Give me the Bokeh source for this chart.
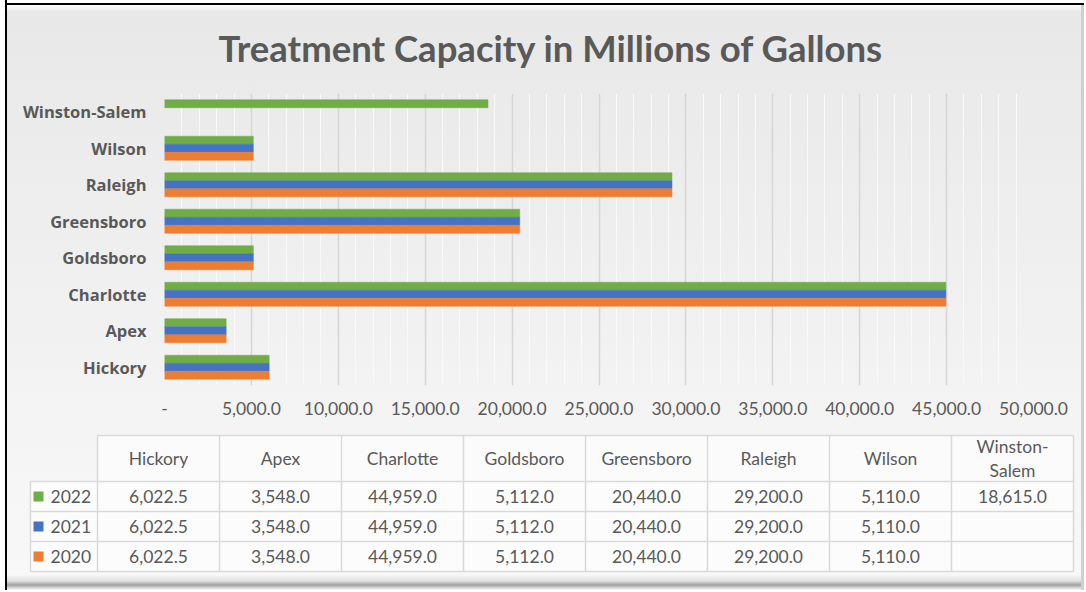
import numpy as np
from bokeh.plotting import figure
from bokeh.models import (ColumnDataSource, FactorRange, Range1d,
                          SingleIntervalTicker, CustomJSTickFormatter)
from bokeh.transform import dodge
from bokeh.core.properties import value
from bokeh.embed import file_html
from bokeh.resources import INLINE

# ---------------- data ----------------
categories = ["Hickory", "Apex", "Charlotte", "Goldsboro", "Greensboro",
              "Raleigh", "Wilson", "Winston-Salem"]
header_labels = ["Hickory", "Apex", "Charlotte", "Goldsboro", "Greensboro",
                 "Raleigh", "Wilson", "Winston-\nSalem"]
years = ["2022", "2021", "2020"]
values_2022 = [6022.5, 3548.0, 44959.0, 5112.0, 20440.0, 29200.0, 5110.0, 18615.0]
values_2021 = [6022.5, 3548.0, 44959.0, 5112.0, 20440.0, 29200.0, 5110.0, None]
values_2020 = [6022.5, 3548.0, 44959.0, 5112.0, 20440.0, 29200.0, 5110.0, None]
colors = {"2022": "#70AD47", "2021": "#4472C4", "2020": "#ED7D31"}
x_max = 50000
x_step = 5000

series = {"2022": values_2022, "2021": values_2021, "2020": values_2020}

TEXT = "#595959"
W = 1084
H_CHART = 425
H_TABLE = 165

# ---------------- chart ----------------
src = ColumnDataSource(dict(
    cat=categories,
    **{"v" + y: np.array([np.nan if v is None else v for v in series[y]], dtype=float)
       for y in years}))

p = figure(width=W, height=H_CHART,
           y_range=FactorRange(factors=categories),
           x_range=Range1d(0, x_max),
           output_backend="svg", toolbar_location=None,
           min_border_left=164, min_border_right=W - 1033,
           min_border_top=92, min_border_bottom=H_CHART - 385)
p.title.text = "Treatment Capacity in Millions of Gallons"
p.title.text_font = "Lato"
p.title.text_font_size = "36.5px"
p.title.text_font_style = "bold"
p.title.text_color = TEXT
p.title.align = "left"
p.title.offset = 54
p.title.standoff = 47

# gradient chart-area background (Excel style), drawn by the page behind a transparent canvas
p.background_fill_alpha = 0
p.border_fill_alpha = 0
p.outline_line_color = None
p.styles = {
    "background": "linear-gradient(to bottom, #ffffff 0px, #ffffff 4px, #e8e8e8 12px, #f4f4f4 425px)",
    "box-shadow": "inset 5px 0 0 0 #ffffff, inset 7px 0 0 0 #000000, inset 0 3px 0 0 #ffffff, inset 0 5px 0 0 #000000, inset -3px 0 0 0 #d0d0d0",
}

bar_h = 0.22
for yr, off in zip(years, [bar_h, 0.0, -bar_h]):
    p.hbar(y=dodge("cat", off, range=p.y_range), left=0, right="v" + yr,
           height=bar_h, fill_color=colors[yr], line_color=colors[yr],
           line_width=0.5, source=src)

ticker = SingleIntervalTicker(interval=x_step, num_minor_ticks=5)
p.xaxis.ticker = ticker
p.xgrid.ticker = ticker
p.xgrid.grid_line_color = "#d6d6d6"
p.xgrid.grid_line_width = 1.5
p.xgrid.minor_grid_line_color = "#f9f9f9"
p.xgrid.minor_grid_line_width = 1
p.ygrid.grid_line_color = None

p.xaxis.formatter = CustomJSTickFormatter(code="""
    if (tick == 0) { return "-"; }
    return tick.toLocaleString('en-US', {minimumFractionDigits: 1, maximumFractionDigits: 1});
""")
p.xaxis.major_label_text_font = "Lato"
p.xaxis.major_label_text_font_size = "17.5px"
p.xaxis.major_label_text_color = TEXT
p.xaxis.major_label_standoff = 10
p.xaxis.axis_line_color = None
p.xaxis.major_tick_line_color = None
p.xaxis.minor_tick_line_color = None

p.yaxis.major_label_text_font = "Open Sans"
p.yaxis.major_label_text_font_size = "16.5px"
p.yaxis.major_label_text_font_style = "bold"
p.yaxis.major_label_text_color = TEXT
p.yaxis.major_label_standoff = 12
p.yaxis.axis_line_color = None
p.yaxis.major_tick_line_color = None
p.yaxis.minor_tick_line_color = None

# ---------------- data table ----------------
t = figure(width=W, height=H_TABLE, x_range=Range1d(0, W),
           y_range=Range1d(H_CHART + H_TABLE, H_CHART),
           x_axis_type=None, y_axis_type=None,
           output_backend="svg", toolbar_location=None, min_border=0)
t.background_fill_alpha = 0
t.border_fill_alpha = 0
t.outline_line_color = None
t.grid.visible = False
t.styles = {
    "background": "linear-gradient(to bottom, #f4f4f4 0px, #f8f8f8 150px, #e0e0e0 156px, #a0a0a0 160px, #ffffff 165px)",
    "box-shadow": "inset 5px 0 0 0 #ffffff, inset 7px 0 0 0 #000000, inset -3px 0 0 0 #d0d0d0",
}

col0 = 97          # left edge of first category column
colw = 122         # category column width
leg_left = 30      # left edge of legend column
row_edges = [435, 481, 511, 541, 571]
ncol = len(categories)
right_edge = col0 + ncol * colw

# cell backgrounds
t.quad(left=[col0], right=[right_edge], top=[row_edges[0]], bottom=[row_edges[1]],
       fill_color="#fbfbfb", line_color=None)
t.quad(left=[leg_left], right=[right_edge], top=[row_edges[1]], bottom=[row_edges[-1]],
       fill_color="#fcfcfc", line_color=None)

# grid lines
x0s, y0s, x1s, y1s = [], [], [], []
x0s.append(col0); y0s.append(row_edges[0]); x1s.append(right_edge); y1s.append(row_edges[0])
for ry in row_edges[1:]:
    x0s.append(leg_left); y0s.append(ry); x1s.append(right_edge); y1s.append(ry)
for i in range(ncol + 1):
    cx = col0 + i * colw
    x0s.append(cx); y0s.append(row_edges[0]); x1s.append(cx); y1s.append(row_edges[-1])
x0s.append(leg_left); y0s.append(row_edges[1]); x1s.append(leg_left); y1s.append(row_edges[-1])
t.segment(x0=x0s, y0=y0s, x1=x1s, y1=y1s, line_color="#d9d9d9", line_width=1.5)

centers_x = [col0 + colw / 2 + i * colw for i in range(ncol)]
# header
t.text(x=centers_x, y=[(row_edges[0] + row_edges[1]) / 2] * ncol, text=header_labels,
       text_font=value("Lato"), text_font_size="17.5px", text_color=TEXT,
       text_align="center", text_baseline="middle", text_line_height=1.1)

def fmt(v):
    return "" if v is None else f"{v:,.1f}"

for r, yr in enumerate(years):
    cy = (row_edges[r + 1] + row_edges[r + 2]) / 2
    t.text(x=centers_x, y=[cy] * ncol, text=[fmt(v) for v in series[yr]],
           text_font=value("Lato"), text_font_size="17.5px", text_color=TEXT,
           text_align="center", text_baseline="middle")
    t.scatter(x=[leg_left + 8], y=[cy], marker="square", size=10,
              fill_color=colors[yr], line_color=None)
    t.text(x=[leg_left + 20], y=[cy], text=[yr],
           text_font=value("Lato"), text_font_size="17.5px", text_color=TEXT,
           text_align="left", text_baseline="middle")

open("out.html", "w").write(file_html([p, t], INLINE))
